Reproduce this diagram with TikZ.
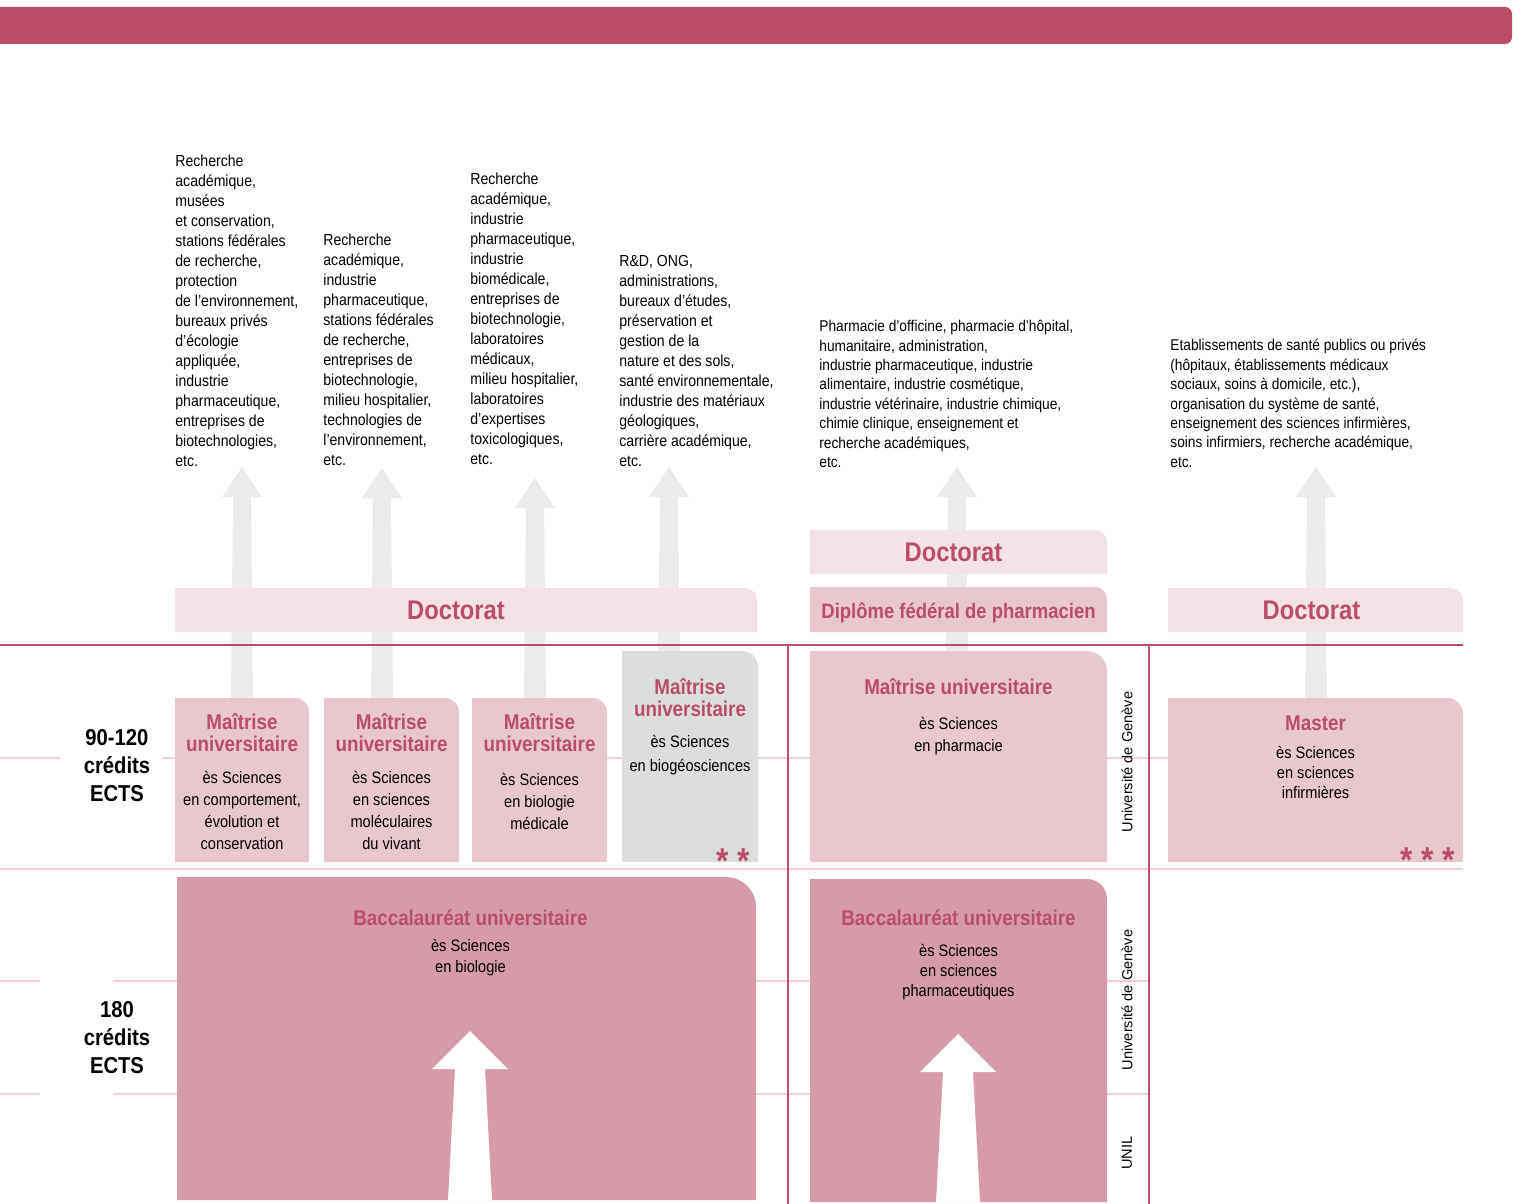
\documentclass[tikz,border=0pt]{standalone}
\usepackage{fontspec}
\setmainfont{Liberation Sans}[FakeStretch=0.88]
\newfontfamily\widefont{Liberation Sans}
\usepackage{tikz}
\usetikzlibrary{positioning,calc,fit}
\definecolor{rose}{RGB}{186,78,104}
\definecolor{roseline}{RGB}{242,206,214}
\definecolor{docfill}{RGB}{243,226,230}
\definecolor{mfill}{RGB}{232,199,206}
\definecolor{greyfill}{RGB}{220,221,221}
\definecolor{bacfill}{RGB}{214,155,169}
\definecolor{arrowgrey}{RGB}{235,235,235}
\pgfdeclarelayer{bg}
\pgfsetlayers{bg,main}

\newcommand\jobfont{\fontsize{8}{10}\selectfont}
\newcommand\headfont{\bfseries\fontsize{10.7}{11}\selectfont}
\newcommand\bodyfont{\fontsize{8.3}{11}\selectfont}
\newcommand\docfont{\bfseries\fontsize{13.5}{15}\selectfont}
\newcommand\credfont{\bfseries\fontsize{11.5}{14}\selectfont}
\newcommand\unifont{\widefont\fontsize{7.3}{9}\selectfont}

% box with one rounded corner (top right), named #1
\newcommand\tabbox[7]{%
  \coordinate (#1-nw) at (#3,#4);
  \coordinate (#1-se) at (#5,#6);
  \fill[#2] (#1-nw |- #1-se) -- (#1-nw) -- ($(#1-se |- #1-nw)+(-#7,0)$)
    arc[start angle=90, end angle=0, radius=#7] -- (#1-se) -- cycle;
  \node[fit=(#1-nw)(#1-se), inner sep=0pt] (#1) {};
}
% fat arrow: style, base, tip, half base, half top, half head, head length
\newcommand\fatarrow[7]{%
  \fill[#1] let \p1=(#2), \p2=(#3) in
    (\x1-#4,\y1) -- (\x1-#5,\y2-#7) -- (\x1-#6,\y2-#7) -- (\x1,\y2)
    -- (\x1+#6,\y2-#7) -- (\x1+#5,\y2-#7) -- (\x1+#4,\y1) -- cycle;
}

\begin{document}
\begin{tikzpicture}[x=0.5pt, y=-0.5pt,
    job/.style={anchor=north west, align=left, inner sep=0pt, font=\jobfont},
    head/.style={align=center, inner sep=0pt, text=rose, font=\headfont},
    body/.style={align=center, inner sep=0pt, font=\bodyfont},
    doc/.style={inner sep=0pt, text=rose, font=\docfont},
    cred/.style={align=center, inner sep=0pt, font=\credfont},
    uni/.style={rotate=90, inner sep=0pt, font=\unifont},
    stars/.style={anchor=base east, inner sep=0pt, text=rose, font=\bfseries\fontsize{18}{18}\selectfont},
    redline/.style={draw=rose, line width=1pt},
    redvline/.style={draw=rose, line width=0.7pt},
    pinkline/.style={draw=roseline, line width=1pt}
]
    \useasboundingbox (0,0) rectangle (1521,1204);

    % Top bar
    \fill[rose, rounded corners=3.5pt] (-20,7) rectangle (1512,44);

    % Arrow tips
    \coordinate (t1) at (242,467);
    \coordinate (t2) at (382,468);
    \coordinate (t3) at (535,478);
    \coordinate (t4) at (669,467);
    \coordinate (t5) at (957,467);
    \coordinate (t6) at (1316,467);
    \coordinate (w1) at (470,1031);
    \coordinate (w2) at (958,1034);

    % Career arrows and grid lines
    \begin{pgfonlayer}{bg}
    \fatarrow{arrowgrey}{t1 |- 0,698}{t1}{5.5pt}{4.5pt}{10pt}{15pt}
    \fatarrow{arrowgrey}{t2 |- 0,698}{t2}{5.5pt}{4.5pt}{10pt}{15pt}
    \fatarrow{arrowgrey}{t3 |- 0,698}{t3}{5.5pt}{4.5pt}{10pt}{15pt}
    \fatarrow{arrowgrey}{t4 |- 0,651}{t4}{5.5pt}{4.5pt}{10pt}{15pt}
    \fatarrow{arrowgrey}{t5 |- 0,651}{t5}{5.5pt}{4.5pt}{10pt}{15pt}
    \fatarrow{arrowgrey}{t6 |- 0,698}{t6}{5.5pt}{4.5pt}{10pt}{15pt}

    \draw[pinkline] (0,758) -- (60,758) (162,758) -- (175,758) (607,758) -- (622,758) (758,758) -- (1463,758);
    \draw[pinkline, line width=1.3pt] (0,869) -- (1463,869);
    \draw[pinkline] (0,981) -- (40,981) (113,981) -- (1149,981);
    \draw[pinkline] (0,1094) -- (40,1094) (113,1094) -- (1149,1094);
    \draw[redline] (0,645) -- (1463,645);
    \draw[redvline] (788,645) -- (788,1210);
    \draw[redvline] (1149,645) -- (1149,1210);
    \end{pgfonlayer}

    % Doctorat bands
    \tabbox{doc1}{docfill}{175}{588}{757}{632}{6pt}
    \tabbox{doc2}{docfill}{810}{530}{1107}{574}{6pt}
    \tabbox{dfp}{mfill}{810}{587}{1107}{632}{6pt}
    \tabbox{doc3}{docfill}{1168}{588}{1463}{632}{6pt}

    % Maitrise boxes
    \tabbox{m1}{mfill}{175}{698}{309}{862}{7pt}
    \tabbox{m2}{mfill}{324}{698}{459}{862}{7pt}
    \tabbox{m3}{mfill}{472}{698}{607}{862}{7pt}
    \tabbox{m4}{greyfill}{622}{651}{758}{862}{8pt}
    \tabbox{m5}{mfill}{810}{651}{1107}{862}{10pt}
    \tabbox{m6}{mfill}{1168}{698}{1463}{862}{8pt}

    % Bachelor boxes
    \tabbox{b1}{bacfill}{177}{877}{756}{1200}{15pt}
    \tabbox{b2}{bacfill}{810}{879}{1107}{1202}{10pt}
    \fatarrow{white}{w1 |- b1.south}{w1}{11pt}{7.5pt}{19pt}{19pt}
    \fatarrow{white}{w2 |- b2.south}{w2}{11pt}{7.5pt}{19pt}{19pt}

    % Careers
    \node[job] (job1) at (175,155) {Recherche\\académique,\\musées\\et conservation,\\stations fédérales\\de recherche,\\protection\\de l’environnement,\\bureaux privés\\d’écologie\\appliquée,\\industrie\\pharmaceutique,\\entreprises de\\biotechnologies,\\etc.};
    \node[job] (job2) at (323,234) {Recherche\\académique,\\industrie\\pharmaceutique,\\stations fédérales\\de recherche,\\entreprises de\\biotechnologie,\\milieu hospitalier,\\technologies de\\l’environnement,\\etc.};
    \node[job] (job3) at (470,173) {Recherche\\académique,\\industrie\\pharmaceutique,\\industrie\\biomédicale,\\entreprises de\\biotechnologie,\\laboratoires\\médicaux,\\milieu hospitalier,\\laboratoires\\d’expertises\\toxicologiques,\\etc.};
    \node[job] (job4) at (619,255) {R\&D, ONG,\\administrations,\\bureaux d’études,\\préservation et\\gestion de la\\nature et des sols,\\santé environnementale,\\industrie des matériaux\\géologiques,\\carrière académique,\\etc.};
    \node[job, font=\fontsize{7.8}{9.7}\selectfont] (job5) at (819,320) {Pharmacie d’officine, pharmacie d’hôpital,\\humanitaire, administration,\\industrie pharmaceutique, industrie\\alimentaire, industrie cosmétique,\\industrie vétérinaire, industrie chimique,\\chimie clinique, enseignement et\\recherche académiques,\\etc.};
    \node[job, font=\fontsize{7.8}{9.7}\selectfont] (job6) at (1170,339) {Etablissements de santé publics ou privés\\(hôpitaux, établissements médicaux\\sociaux, soins à domicile, etc.),\\organisation du système de santé,\\enseignement des sciences infirmières,\\soins infirmiers, recherche académique,\\etc.};

    % Doctorat labels
    \node[doc, xshift=-5pt] (doc1t) at (doc1) {Doctorat};
    \node[doc, xshift=-2.5pt] (doc2t) at (doc2) {Doctorat};
    \node[doc, yshift=-1.5pt, font=\bfseries\fontsize{10.5}{12}\selectfont] (dfpt) at (dfp) {Diplôme fédéral de pharmacien};
    \node[doc, xshift=-2pt] (doc3t) at (doc3) {Doctorat};

    % Maitrise labels
    \node[head, below=7.85pt of m1.north] (m1h) {Maîtrise\\universitaire};
    \node[body, below=36.85pt of m1.north] (m1b) {ès Sciences\\en comportement,\\évolution et\\conservation};
    \node[head, below=7.85pt of m2.north] (m2h) {Maîtrise\\universitaire};
    \node[body, below=36.85pt of m2.north] (m2b) {ès Sciences\\en sciences\\moléculaires\\du vivant};
    \node[head, below=7.85pt of m3.north] (m3h) {Maîtrise\\universitaire};
    \node[body, below=37.85pt of m3.north] (m3b) {ès Sciences\\en biologie\\médicale};
    \node[head, below=13.85pt of m4.north] (m4h) {Maîtrise\\universitaire};
    \node[body, below=42.35pt of m4.north, font=\fontsize{8.3}{12}\selectfont] (m4b) {ès Sciences\\en biogéosciences};
    \node[stars] (s4) at (750,873) {* *};
    \node[head, below=13.85pt of m5.north] (m5h) {Maîtrise universitaire};
    \node[body, below=33.35pt of m5.north] (m5b) {ès Sciences\\en pharmacie};
    \node[head, below=8.85pt of m6.north] (m6h) {Master};
    \node[body, below=24.35pt of m6.north, font=\fontsize{8.3}{10}\selectfont] (m6b) {ès Sciences\\en sciences\\infirmières};
    \node[stars] (s6) at (1455,872) {* * *};

    % Bachelor labels
    \node[head, below=16.35pt of b1.north, xshift=2pt] (b1h) {Baccalauréat universitaire};
    \node[body, below=31.35pt of b1.north, xshift=2pt, font=\fontsize{8.3}{10.5}\selectfont] (b1b) {ès Sciences\\en biologie};
    \node[head, below=15.35pt of b2.north] (b2h) {Baccalauréat universitaire};
    \node[body, below=32.85pt of b2.north, font=\fontsize{8.3}{10}\selectfont] (b2b) {ès Sciences\\en sciences\\pharmaceutiques};

    % Credits
    \node[cred] (c1) at (117,766) {90-120\\crédits\\ECTS};
    \node[cred] (c2) at (117,1038) {180\\crédits\\ECTS};

    % Universities
    \node[uni] (ge1) at (1127,762) {Université de Genève};
    \node[uni] (ge2) at (1127,1000) {Université de Genève};
    \node[uni] (unil) at (1127,1153) {UNIL};
\end{tikzpicture}
\end{document}
